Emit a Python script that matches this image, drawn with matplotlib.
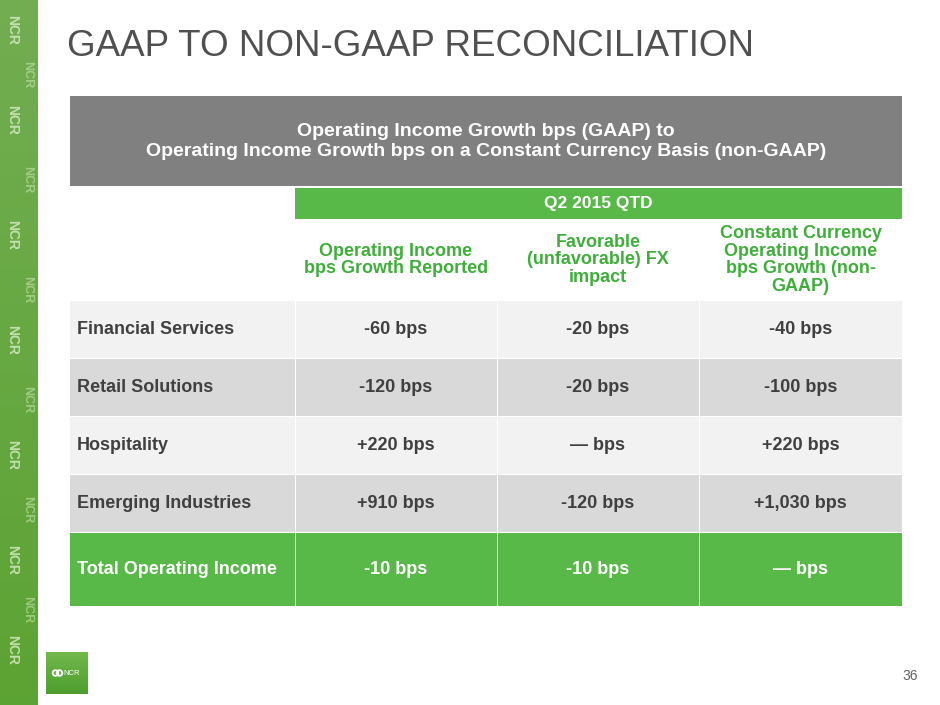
import numpy as np
import matplotlib
matplotlib.use("Agg")
import matplotlib.pyplot as plt
from matplotlib.patches import Rectangle, Circle

# Data
header_lines = ["Operating Income Growth bps (GAAP) to",
                "Operating Income Growth bps on a Constant Currency Basis (non-GAAP)"]
period = "Q2 2015 QTD"
col_headers = ["Operating Income\nbps Growth Reported",
               "Favorable\n(unfavorable) FX\nimpact",
               "Constant Currency\nOperating Income\nbps Growth (non-\nGAAP)"]
segments = ["Financial Services", "Retail Solutions", "Hospitality",
            "Emerging Industries", "Total Operating Income"]
reported = ["-60 bps", "-120 bps", "+220 bps", "+910 bps", "-10 bps"]
fx_impact = ["-20 bps", "-20 bps", "\u2014 bps", "-120 bps", "-10 bps"]
constant_cc = ["-40 bps", "-100 bps", "+220 bps", "+1,030 bps", "\u2014 bps"]
page_no = "36"

# Colours
GREEN = "#58b848"
GREEN_TXT = "#3fae3a"
DARK = "#404040"
HEAD_GRAY = "#808080"
ROW_LIGHT = "#f2f2f2"
ROW_DARK = "#d9d9d9"

plt.rcParams['font.family'] = ['Liberation Sans', 'DejaVu Sans']

fig = plt.figure(figsize=(9.4, 7.05), dpi=100)
ax = fig.add_axes([0, 0, 1, 1])
ax.set_xlim(0, 940)
ax.set_ylim(705, 0)
ax.axis("off")

# left decorative strip
grad = np.linspace(0, 1, 200).reshape(-1, 1)
strip = np.zeros((200, 1, 3))
top_c = np.array([0.45, 0.68, 0.32])
bot_c = np.array([0.36, 0.64, 0.20])
strip[:, 0, :] = top_c * (1 - grad) + bot_c * grad
ax.imshow(strip, extent=(0, 38, 705, 0), aspect="auto", zorder=1)
for yy in [30, 120, 235, 340, 455, 560, 650]:
    ax.text(12, yy, "NCR", rotation=-90, color="#d8efc8", fontsize=10,
            fontweight="bold", ha="center", va="center", alpha=0.8, zorder=2)
for yy in [75, 180, 290, 400, 510, 610]:
    ax.text(27, yy, "NCR", rotation=-90, color="#c4e6ae", fontsize=9,
            fontweight="bold", ha="center", va="center", alpha=0.6, zorder=2)

# title
ax.text(67, 46, "GAAP TO NON-GAAP RECONCILIATION", fontsize=26.5, color="#505050",
        ha="left", va="center")

# table geometry
x_edges = [70, 295, 497, 699, 902]
row_tops = [301, 359, 417, 475, 533]
row_bots = [358, 416, 474, 532, 606]
gap = 1.0

# gray header
ax.add_patch(Rectangle((70, 96), 832, 90, color=HEAD_GRAY, lw=0))
for yy, line in zip([132, 152], header_lines):
    ax.text(486, yy, line, color="white", fontsize=14,
            fontweight="bold", ha="center", va="center")

# green period band
ax.add_patch(Rectangle((295, 188), 607, 31, color=GREEN, lw=0))
ax.text(598.5, 203.5, period, color="white", fontsize=12.5, fontweight="bold",
        ha="center", va="center")

# column headers
for i, h in enumerate(col_headers):
    xc = (x_edges[i + 1] + x_edges[i + 2]) / 2
    ax.text(xc, 260, h, color=GREEN_TXT, fontsize=13, fontweight="bold",
            ha="center", va="center", linespacing=1.05)

# body rows
for r, seg in enumerate(segments):
    total = r == len(segments) - 1
    if total:
        fc, tc = GREEN, "white"
    else:
        fc = ROW_LIGHT if r % 2 == 0 else ROW_DARK
        tc = DARK
    y0, y1 = row_tops[r], row_bots[r]
    yc = (y0 + y1) / 2
    for c in range(4):
        ax.add_patch(Rectangle((x_edges[c] + (gap if c else 0), y0),
                               x_edges[c + 1] - x_edges[c] - (gap if c else 0),
                               y1 - y0, color=fc, lw=0))
    ax.text(77, yc, seg, color=tc, fontsize=13, fontweight="bold",
            ha="left", va="center")
    for c, vals in enumerate([reported, fx_impact, constant_cc]):
        xc = (x_edges[c + 1] + x_edges[c + 2]) / 2
        ax.text(xc, yc, vals[r], color=tc, fontsize=13, fontweight="bold",
                ha="center", va="center")

# logo
logo = np.zeros((50, 1, 3))
g2 = np.linspace(0, 1, 50).reshape(-1, 1)
logo[:, 0, :] = np.array([0.45, 0.72, 0.30]) * (1 - g2) + np.array([0.30, 0.62, 0.18]) * g2
ax.imshow(logo, extent=(46, 88, 694, 652), aspect="auto", zorder=3)
ax.add_patch(Circle((55.5, 673), 2.8, fill=False, ec="white", lw=1.3, zorder=4))
ax.add_patch(Circle((59.5, 673), 2.8, fill=False, ec="white", lw=1.3, zorder=4))
ax.text(63, 673.5, "NCR", color="white", fontsize=5.5, ha="left", va="center",
        zorder=4)

# page number
ax.text(910, 676, page_no, color="#606060", fontsize=10, ha="center", va="center")

fig.savefig("out.png", dpi=100)
